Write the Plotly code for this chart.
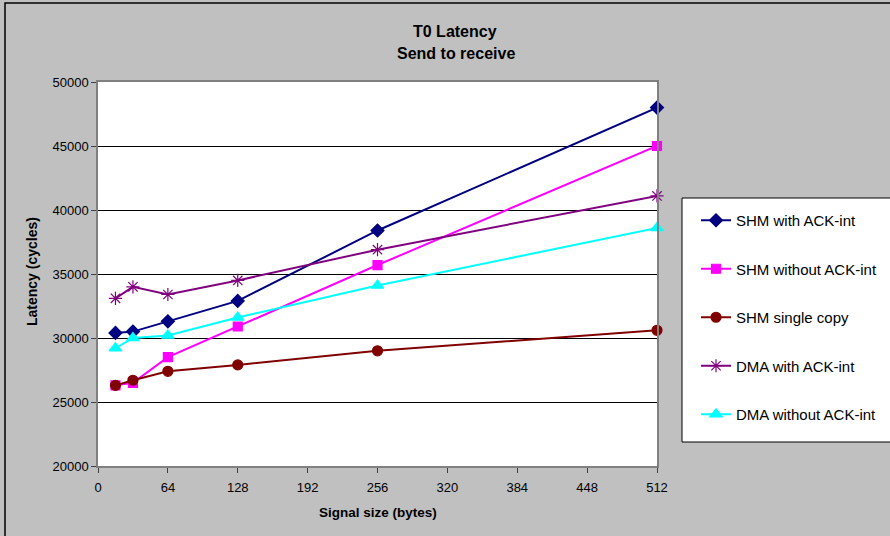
import plotly.graph_objects as go

sizes = [16, 32, 64, 128, 256, 512]
shm_ack = [30400, 30500, 31300, 32900, 38400, 48000]
shm_noack = [26300, 26500, 28500, 30900, 35700, 45000]
shm_single = [26300, 26700, 27400, 27900, 29000, 30600]
dma_ack = [33100, 34000, 33400, 34500, 36900, 41100]
dma_noack = [29200, 30000, 30200, 31600, 34100, 38600]

x_ticks = [0, 64, 128, 192, 256, 320, 384, 448, 512]
y_ticks = [20000, 25000, 30000, 35000, 40000, 45000, 50000]

series = [
    ("SHM with ACK-int", shm_ack, "#000080", "diamond", 10),
    ("SHM without ACK-int", shm_noack, "#FF00FF", "square", 9),
    ("SHM single copy", shm_single, "#800000", "circle", 10),
    ("DMA with ACK-int", dma_ack, "#800080", "asterisk-open", 11),
    ("DMA without ACK-int", dma_noack, "#00FFFF", "triangle-up", 11),
]

fig = go.Figure()
for i, (name, vals, col, sym, sz) in enumerate(series):
    fig.add_trace(go.Scatter(
        x=sizes, y=vals, name=name, mode="lines+markers",
        line=dict(color=col, width=2),
        marker=dict(symbol=sym, size=sz, color=col, line=dict(color=col, width=1.2)),
        legendgroup=f"g{i}", cliponaxis=False,
    ))

font = "Arial, Liberation Sans, sans-serif"
L, R, T, B = 98, 890 - 657, 82, 536 - 466
W, H = 890 - L - R, 536 - T - B

def px(xp):
    return (xp - L) / W

def py(yp):
    return (536 - B - yp) / H

def label(text, x, y, size, angle=0):
    return dict(text=text, xref="paper", yref="paper", x=px(x), y=py(y),
                xanchor="center", yanchor="middle", showarrow=False, textangle=angle,
                font=dict(family=font, size=size, color="black"))

fig.update_layout(
    width=890, height=536,
    margin=dict(l=L, r=R, t=T, b=B, autoexpand=False),
    paper_bgcolor="#C0C0C0", plot_bgcolor="white",
    showlegend=True,
    legend=dict(xref="container", yref="container", x=696 / 890, y=1 - 204 / 536,
                xanchor="left", yanchor="top",
                bgcolor="rgba(0,0,0,0)", borderwidth=0,
                font=dict(family=font, size=15, color="black"),
                tracegroupgap=26, itemwidth=30),
    xaxis=dict(range=[0, 512], tickvals=x_ticks, ticktext=[str(v) for v in x_ticks],
               showgrid=False, zeroline=False, showline=True, linecolor="#808080",
               linewidth=1.5, mirror=True, ticks="outside", ticklen=5, tickcolor="#404040",
               ticklabelstandoff=4, automargin=False,
               tickfont=dict(family=font, size=13, color="black")),
    yaxis=dict(range=[20000, 50000], tickvals=y_ticks, ticktext=[str(v) for v in y_ticks],
               showgrid=True, gridcolor="black", gridwidth=1, zeroline=False,
               showline=True, linecolor="#808080", linewidth=1.5, mirror=True,
               ticks="outside", ticklen=5, tickcolor="#404040", automargin=False,
               tickfont=dict(family=font, size=13, color="black")),
    shapes=[
        dict(type="rect", xref="paper", yref="paper",
             x0=px(5), x1=px(905), y0=py(550), y1=py(3),
             line=dict(color="black", width=1.5), fillcolor="rgba(0,0,0,0)",
             layer="below"),
        dict(type="rect", xref="paper", yref="paper",
             x0=px(682), x1=px(905), y0=py(442), y1=py(198),
             line=dict(color="black", width=1), fillcolor="white",
             layer="above"),
    ],
    annotations=[
        label("<b>T0 Latency</b>", 455, 31, 16),
        label("<b>Send to receive</b>", 456, 54, 16),
        label("<b>Signal size (bytes)</b>", 378, 512, 13.5),
        label("<b>Latency (cycles)</b>", 32, 272, 14, -90),
    ],
)

fig.write_html("out.html", post_script="document.body.style.margin='0';",
               config={"displayModeBar": False})
